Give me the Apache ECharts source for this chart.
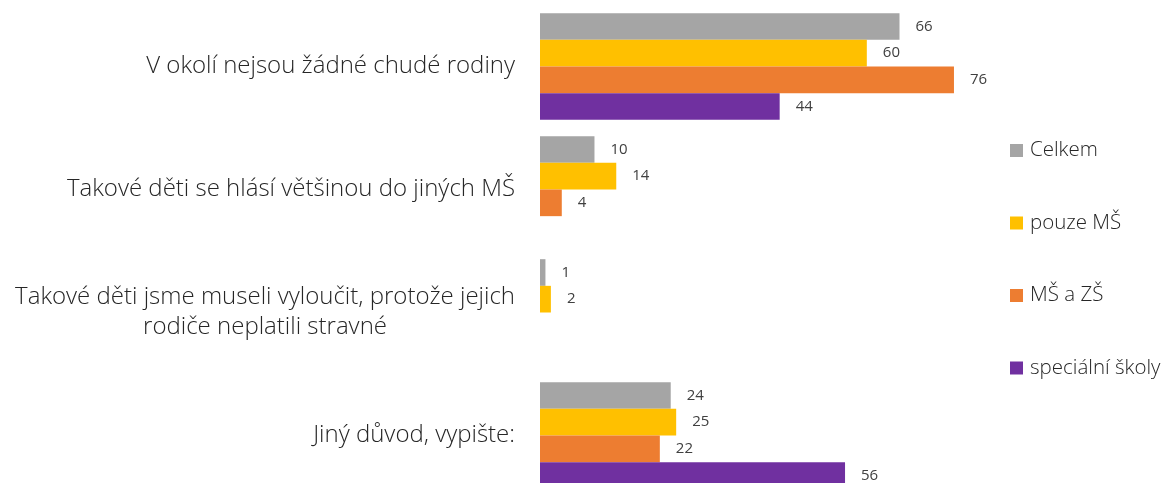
<!DOCTYPE html>
<html>
<head>
<meta charset="utf-8">
<script src="https://cdn.jsdelivr.net/npm/echarts@6/dist/echarts.min.js"></script>
<style>
  html, body { margin: 0; padding: 0; background: #fff; overflow: hidden; }
  #chart { width: 1170px; height: 510px; }
</style>
</head>
<body>
<div id="chart"></div>
<script>
// categories, top to bottom
var categories = [
  "V okolí nejsou žádné chudé rodiny",
  "Takové děti se hlásí většinou do jiných MŠ",
  "Takové děti jsme museli vyloučit, protože jejich\nrodiče neplatili stravné",
  "Jiný důvod, vypište:"
];
var seriesNames = ["Celkem", "pouze MŠ", "MŠ a ZŠ", "speciální školy"];
var celkem = [66, 10, 1, 24];
var pouzeMS = [60, 14, 2, 25];
var msZs = [76, 4, "-", 22];
var specialni = [44, "-", "-", 56];
var colors = ["#A5A5A5", "#FFC000", "#ED7D31", "#7030A0"];

var chart = echarts.init(document.getElementById("chart"));

function barSeries(name, data, color) {
  return {
    name: name,
    type: "bar",
    data: data,
    barGap: "0%",
    barCategoryGap: "13.3%",
    itemStyle: { color: color },
    label: {
      show: true,
      position: "right",
      distance: 16,
      color: "#404040",
      fontSize: 15,
      fontFamily: "Open Sans"
    }
  };
}

chart.setOption({
  animation: false,
  color: colors,
  grid: {
    left: 540,
    top: 5,
    width: 544.7,
    height: 492
  },
  legend: {
    orient: "vertical",
    left: 1010,
    top: 140,
    padding: 0,
    itemWidth: 13,
    itemHeight: 13,
    itemGap: 51.5,
    icon: "rect",
    textStyle: {
      fontSize: 20.5,
      lineHeight: 20,
      padding: [0, 0, 0, 2],
      color: "#262626",
      fontFamily: "Open Sans",
      fontWeight: 300
    },
    data: seriesNames
  },
  xAxis: {
    type: "value",
    min: 0,
    max: 100,
    show: false
  },
  yAxis: {
    type: "category",
    inverse: true,
    data: categories,
    axisLine: { show: false },
    axisTick: { show: false },
    axisLabel: {
      margin: 25,
      fontSize: 24,
      color: "#262626",
      fontFamily: "Open Sans",
      fontWeight: 300,
      lineHeight: 30,
      formatter: function (v) {
        return v.split("\n").map(function (s) { return "{c|" + s + "}"; }).join("\n");
      },
      rich: {
        c: {
          align: "center",
          fontSize: 24,
          lineHeight: 30,
          color: "#262626",
          fontFamily: "Open Sans",
          fontWeight: 300
        }
      }
    }
  },
  series: [
    barSeries(seriesNames[0], celkem, colors[0]),
    barSeries(seriesNames[1], pouzeMS, colors[1]),
    barSeries(seriesNames[2], msZs, colors[2]),
    barSeries(seriesNames[3], specialni, colors[3])
  ]
});
</script>
</body>
</html>
